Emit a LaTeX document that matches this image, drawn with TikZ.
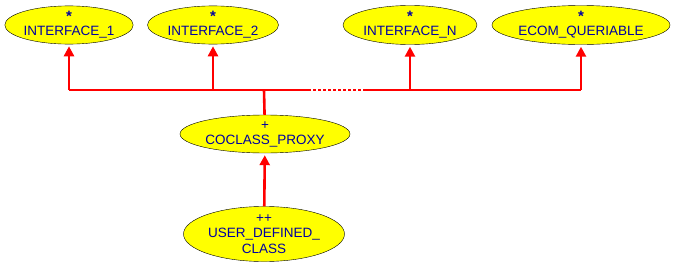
\documentclass[tikz,border=0pt]{standalone}
\usepackage{fontspec}
\setmainfont{Liberation Sans}
\usetikzlibrary{shapes.geometric,arrows.meta}
\definecolor{classfill}{RGB}{255,255,0}
\definecolor{classtext}{RGB}{0,0,160}
\definecolor{linkred}{RGB}{255,0,0}
\newcommand{\deferredmark}{{\fontsize{15}{16}\selectfont\textbf{*}}}

\begin{document}
\begin{tikzpicture}[x=1pt,y=-1pt,
        class/.style={ellipse, draw=black, fill=classfill, inner sep=0pt,
            text=classtext, align=center,
            font=\fontsize{13.5}{16}\selectfont},
        bus/.style={draw=linkred, line width=2.6pt},
        inherit/.style={bus, -{Triangle[length=10pt,width=10pt]}, shorten >=2pt}]
        % frame
            \useasboundingbox (0,0) rectangle (678,268);
        % nodes
            \node[class, minimum width=128, minimum height=38] (if1) at (69,25) {\deferredmark\\[-2pt]INTERFACE\_1};
            \node[class, minimum width=131, minimum height=38] (if2) at (213,25) {\deferredmark\\[-2pt]INTERFACE\_2};
            \node[class, minimum width=134, minimum height=39] (ifn) at (410,25) {\deferredmark\\[-2pt]INTERFACE\_N};
            \node[class, minimum width=178, minimum height=39] (ecom) at (581,25) {\deferredmark\\[-2pt]ECOM\_QUERIABLE};
            \node[class, minimum width=170, minimum height=38] (proxy) at (265,134) {+\\[-1pt]COCLASS\_PROXY};
            \node[class, minimum width=161, minimum height=48] (user) at (264,234) {++\\[-1pt]USER\_DEFINED\_\\CLASS};
        % bus points
            \coordinate (b1) at (69,90);
            \coordinate (b2) at (213,90);
            \coordinate (bp) at (264,90);
            \coordinate (gapl) at (308,90);
            \coordinate (gapr) at (365,90);
            \coordinate (bn) at (410,90);
            \coordinate (b4) at (581,90);
        % lines
            \draw[bus] (b1) -- (gapl);
            \draw[bus, line width=2pt, dash pattern=on 3pt off 2pt] (gapl) -- (gapr);
            \draw[bus] (gapr) -- (b4);
            \draw[bus] (proxy) -- (bp);
            \draw[inherit] (b1) -- (if1);
            \draw[inherit] (b2) -- (if2);
            \draw[inherit] (bn) -- (ifn);
            \draw[inherit] (b4) -- (ecom);
            \draw[inherit] (user) -- (proxy);
    \end{tikzpicture}
\end{document}
